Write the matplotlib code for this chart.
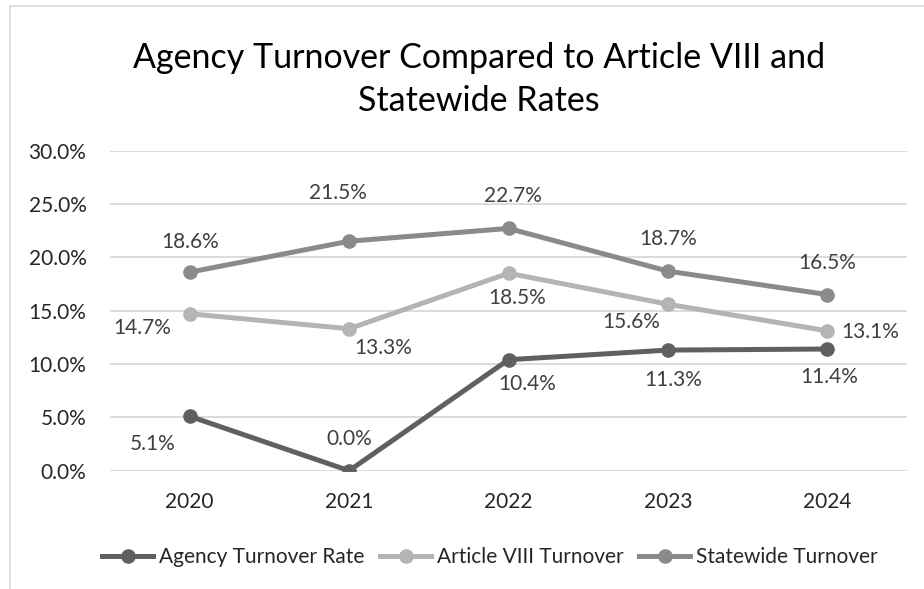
import matplotlib
matplotlib.use("Agg")
import matplotlib.pyplot as plt
from matplotlib.lines import Line2D

years = ["2020", "2021", "2022", "2023", "2024"]
agency = [5.1, 0.0, 10.4, 11.3, 11.4]
article = [14.7, 13.3, 18.5, 15.6, 13.1]
statewide = [18.6, 21.5, 22.7, 18.7, 16.5]
series_names = ["Agency Turnover Rate", "Article VIII Turnover", "Statewide Turnover"]
yticks = [0, 5, 10, 15, 20, 25, 30]

colors = ["#606060", "#b4b4b4", "#8a8a8a"]
# label offsets in pixels (dx, dy)
off_agency = [(-37, -28), (0, 32), (19, -24), (5, -30), (2, -28)]
off_article = [(-47, -14), (34, -19), (9, -25), (-37, -18), (43, -1)]
off_state = [(0, 30), (-11, 48), (4, 32), (0, 32), (0, 32)]

plt.rcParams['font.family'] = ['Lato', 'DejaVu Sans']

W, H = 924, 589
fig = plt.figure(figsize=(W / 100, H / 100), dpi=100)
ax = fig.add_axes([110 / W, (H - 470.7) / H, 797 / W, 320.2 / H])

x = list(range(len(years)))
data = [agency, article, statewide]
offs = [off_agency, off_article, off_state]
for i in [2, 1, 0]:
    ax.plot(x, data[i], color=colors[i], lw=3.6, marker='o', ms=9.5,
            solid_capstyle='round', zorder=3 + (2 - i), label=series_names[i])
    for xi, v, (dx, dy) in zip(x, data[i], offs[i]):
        ax.annotate(f"{v:.1f}%", (xi, v), xytext=(dx, dy), textcoords='offset pixels',
                    ha='center', va='center', fontsize=15, color='#404040', zorder=10)

ax.set_xlim(-0.5, len(years) - 0.5)
ax.set_ylim(0, 30)
ax.set_yticks(yticks)
ax.set_yticklabels([f"{t:.1f}%" for t in yticks])
ax.set_xticks(x)
ax.set_xticklabels(years)
ax.tick_params(axis='both', length=0, labelsize=15, labelcolor='#262626')
ax.tick_params(axis='y', pad=17)
ax.tick_params(axis='x', pad=15)
ax.grid(axis='y', color='#d9d9d9', lw=1.3)
ax.set_axisbelow(True)
for s in ax.spines.values():
    s.set_visible(False)

fig.text(479 / W, 1 - 58 / H, "Agency Turnover Compared to Article VIII and",
         ha='center', va='center', fontsize=24.5, color='#000000')
fig.text(479 / W, 1 - 101 / H, "Statewide Rates",
         ha='center', va='center', fontsize=24.5, color='#000000')

handles = [Line2D([0], [0], color=colors[i], lw=3.6, marker='o', ms=9.5) for i in range(3)]
fig.legend(handles, series_names, loc='center', bbox_to_anchor=(490 / W, 1 - 557 / H),
           ncol=3, frameon=False, fontsize=15, handlelength=2.45, handletextpad=0.28,
           columnspacing=0.75, labelcolor='#262626')

# chart border (top and left visible)
fig.add_artist(Line2D([10 / W, 10 / W], [0, 1 - 6 / H], color='#d9d9d9', lw=1.2))
fig.add_artist(Line2D([10 / W, 1], [1 - 6 / H, 1 - 6 / H], color='#d9d9d9', lw=1.2))

fig.savefig("out.png", dpi=100)
